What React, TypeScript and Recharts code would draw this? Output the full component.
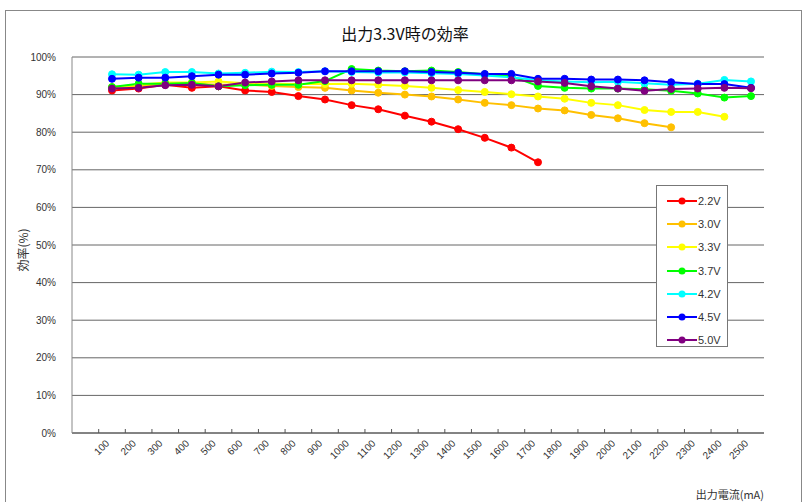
import { LineChart, Line, XAxis, YAxis, CartesianGrid, Legend } from "recharts";

// output current (mA)
const currents = [
  "100", "200", "300", "400", "500", "600", "700", "800", "900", "1000",
  "1100", "1200", "1300", "1400", "1500", "1600", "1700", "1800", "1900", "2000",
  "2100", "2200", "2300", "2400", "2500",
];

// efficiency (%) per input voltage
const eff22 = [91.1, 91.6, 92.6, 91.8, 92.2, 91.1, 90.7, 89.6, 88.7, 87.2, 86.1, 84.4, 82.8, 80.8, 78.5, 75.9, 72.0];
const eff30 = [91.8, 92.3, 92.9, 92.9, 92.6, 92.7, 92.3, 92.0, 91.8, 91.1, 90.5, 90.0, 89.5, 88.7, 87.8, 87.2, 86.3, 85.8, 84.6, 83.7, 82.4, 81.3];
const eff33 = [92.0, 92.6, 93.2, 93.2, 93.5, 93.0, 92.9, 92.8, 92.8, 92.9, 92.6, 92.3, 91.8, 91.2, 90.7, 90.1, 89.5, 88.9, 87.8, 87.2, 85.9, 85.4, 85.4, 84.1];
const eff37 = [92.0, 92.9, 92.9, 93.1, 92.2, 92.5, 92.6, 92.6, 93.6, 96.8, 96.4, 96.2, 96.4, 96.0, 95.4, 94.9, 92.3, 91.8, 91.6, 91.6, 91.4, 91.0, 90.3, 89.2, 89.6];
const eff42 = [95.4, 95.3, 96.0, 96.0, 95.6, 95.8, 96.1, 96.0, 96.2, 96.0, 95.9, 95.9, 95.7, 95.5, 95.1, 94.6, 93.8, 93.5, 93.3, 93.4, 93.0, 92.6, 92.9, 93.9, 93.5];
const eff45 = [94.2, 94.5, 94.5, 94.9, 95.3, 95.3, 95.6, 95.8, 96.2, 96.2, 96.2, 96.2, 96.0, 95.8, 95.5, 95.5, 94.2, 94.2, 94.0, 94.0, 93.8, 93.3, 92.8, 92.8, 91.8];
const eff50 = [91.6, 91.8, 92.5, 92.6, 92.2, 93.2, 93.5, 93.8, 93.8, 93.8, 93.8, 93.8, 93.8, 93.8, 93.8, 93.8, 93.5, 93.1, 92.2, 91.6, 91.0, 91.5, 91.6, 91.8, 91.7];

const yTicks = [0, 10, 20, 30, 40, 50, 60, 70, 80, 90, 100];

const series = [
  { key: "v22", name: "2.2V", color: "#ff0000", values: eff22 },
  { key: "v30", name: "3.0V", color: "#ffc000", values: eff30 },
  { key: "v33", name: "3.3V", color: "#ffff00", values: eff33 },
  { key: "v37", name: "3.7V", color: "#00ff00", values: eff37 },
  { key: "v42", name: "4.2V", color: "#00ffff", values: eff42 },
  { key: "v45", name: "4.5V", color: "#0000ff", values: eff45 },
  { key: "v50", name: "5.0V", color: "#800080", values: eff50 },
];

const data = currents.map((c, i) => {
  const row: Record<string, string | number | null> = { current: c };
  series.forEach(s => {
    row[s.key] = s.values[i] ?? null;
  });
  return row;
});

const jp = '"Noto Sans CJK JP", sans-serif';
const num = '"Liberation Sans", Arial, sans-serif';
const half = 13.3; // half a category step

const XTick = ({ x, y, payload }: any) => (
  <g>
    <line x1={x - half} y1={y} x2={x - half} y2={y - 4} stroke="#555" />
    <text
      x={x - 2}
      y={y + 11}
      transform={`rotate(-45 ${x - 2} ${y + 11})`}
      textAnchor="end"
      fontSize={10}
      fontFamily={num}
      fill="#333"
    >
      {payload.value}
    </text>
  </g>
);

const YTitle = ({ viewBox }: any) => {
  const cx = viewBox.x + 22;
  const cy = viewBox.y + viewBox.height / 2 + 5;
  return (
    <text
      x={cx}
      y={cy}
      transform={`rotate(-90 ${cx} ${cy})`}
      textAnchor="middle"
      dominantBaseline="central"
      fontSize={12}
      fontFamily={jp}
      fill="#333"
    >
      効率(%)
    </text>
  );
};

const LegendBox = ({ payload }: any) => (
  <div
    style={{
      width: 72,
      height: 162,
      boxSizing: "border-box",
      border: "1px solid #777",
      background: "#fff",
      paddingTop: 3,
    }}
  >
    {(payload || []).map((p: any) => (
      <div key={p.value} style={{ display: "flex", alignItems: "center", height: 23.3 }}>
        <svg width={42} height={10} style={{ marginLeft: 8 }}>
          <line x1={2} y1={5} x2={32} y2={5} stroke={p.color} strokeWidth={2} />
          <circle cx={17} cy={5} r={3.5} fill={p.color} />
        </svg>
        <span style={{ fontSize: 11, fontFamily: num, color: "#333", marginLeft: -9 }}>{p.value}</span>
      </div>
    ))}
  </div>
);

export default function App() {
  return (
    <div style={{ position: "absolute", left: 0, top: 0, width: 804, height: 502, overflow: "hidden", background: "#fff" }}>
      <div
        style={{
          position: "absolute",
          left: 5,
          top: 10,
          width: 795,
          height: 600,
          border: "1px solid #888",
        }}
      />
      <div
        style={{
          position: "absolute",
          left: 0,
          top: 21,
          width: 810,
          textAlign: "center",
          fontSize: 16,
          fontFamily: jp,
          color: "#111",
        }}
      >
        出力3.3V時の効率
      </div>
      <LineChart
        width={804}
        height={502}
        data={data}
        margin={{ top: 57, right: 40, bottom: 0, left: 0 }}
      >
        <CartesianGrid vertical={false} stroke="#666" strokeWidth={1} />
        <XAxis
          dataKey="current"
          height={69}
          interval={0}
          padding={{ left: 40, right: 13 }}
          tickLine={false}
          tickSize={0}
          tickMargin={0}
          tick={<XTick />}
          axisLine={{ stroke: "#555" }}
          label={{
            value: "出力電流(mA)",
            position: "insideBottomRight",
            offset: 3,
            dx: 3,
            fontSize: 11,
            fontFamily: jp,
            fill: "#333",
          }}
        />
        <YAxis
          width={72}
          domain={[0, 100]}
          ticks={yTicks}
          interval={0}
          tickFormatter={v => `${v}%`}
          tickLine={false}
          tickMargin={10}
          axisLine={{ stroke: "#888" }}
          tick={{ fontSize: 10, fontFamily: num, fill: "#333" }}
          label={<YTitle />}
        />
        <YAxis
          yAxisId="frame"
          orientation="right"
          width={0}
          domain={[0, 100]}
          tick={false}
          tickLine={false}
          axisLine={{ stroke: "#555" }}
        />
        <Legend
          layout="vertical"
          align="center"
          verticalAlign="middle"
          wrapperStyle={{ left: 656, top: 185, width: 72, height: 162 }}
          content={<LegendBox />}
        />
        {series.map(s => (
          <Line
            key={s.key}
            dataKey={s.key}
            name={s.name}
            stroke={s.color}
            strokeWidth={2}
            dot={{ r: 3.5, fill: s.color, stroke: s.color, strokeWidth: 1 }}
            activeDot={false}
            isAnimationActive={false}
          />
        ))}
      </LineChart>
    </div>
  );
}
